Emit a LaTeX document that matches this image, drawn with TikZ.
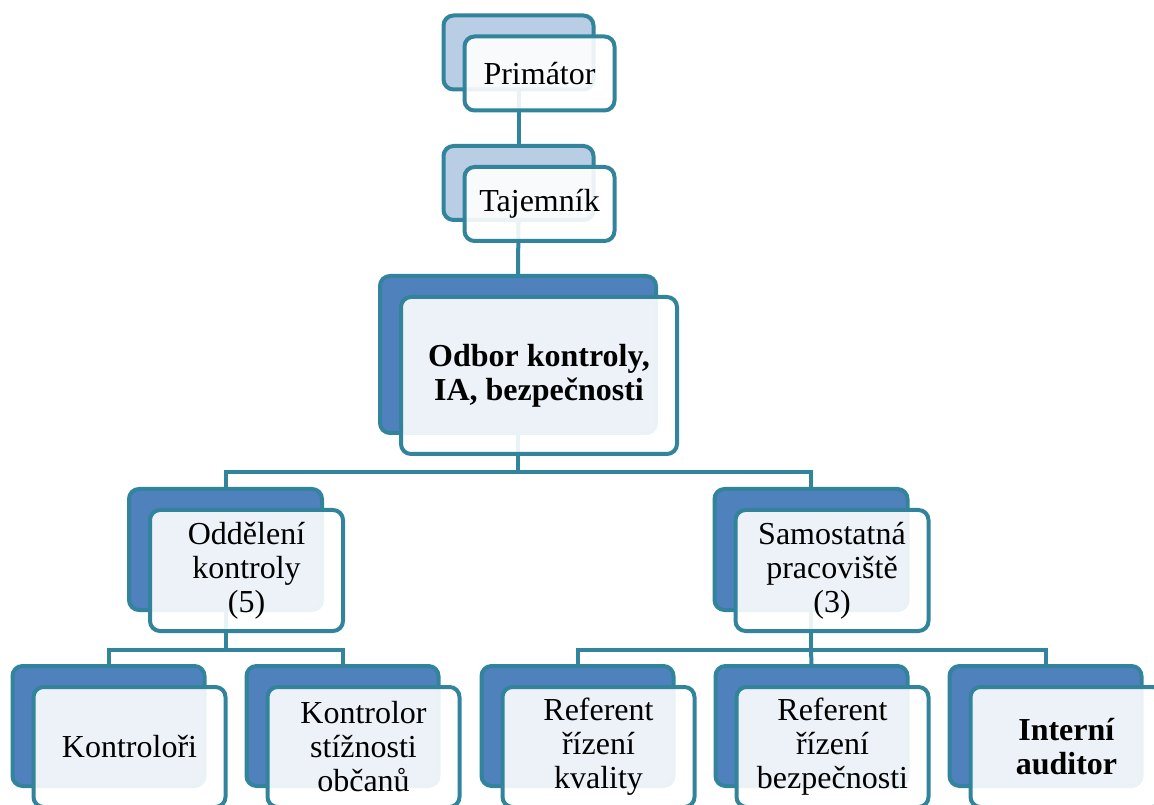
\documentclass[tikz,border=0pt]{standalone}
\usepackage{fontspec}
\setmainfont{Liberation Serif}
\usetikzlibrary{calc}
\definecolor{edge}{HTML}{31849B}
\definecolor{deep}{HTML}{4F81BD}
\definecolor{pale}{HTML}{B9CDE5}
\pgfdeclarelayer{links}
\pgfsetlayers{links,main}
\tikzset{
  backbox/.style={draw=edge, line width=3pt, rounded corners=7.5pt, fill=deep},
  frontbox/.style={draw=edge, line width=3pt, rounded corners=7.5pt, fill=white,
    fill opacity=0.9, text opacity=1, font=\fontsize{24}{25.5}\selectfont,
    align=center, inner sep=0pt},
  link/.style={draw=edge, line width=3pt},
}
% one org unit: a shadow card behind and a caption card offset down-right
% #1 name, #2/#3 centre of the back card, #4/#5 size in px, #6 back fill, #7 caption
\newcommand\orgunit[7]{%
  \node[backbox, fill=#6, minimum width=#4*0.75pt, minimum height=#5*0.75pt] (#1B) at (#2,#3) {};
  \node[frontbox, minimum width=#4*0.75pt, minimum height=#5*0.75pt] (#1F) at (#2+21,#3+21) {#7};
}
\begin{document}
\begin{tikzpicture}[x=0.75pt, y=-0.75pt]
\useasboundingbox (0,0) rectangle (1154,805);
\clip (0,0) rectangle (1154,805);

\orgunit{pri}{518.5}{52.5}{150}{74}{pale}{Primátor}
\orgunit{taj}{518.5}{183}{150}{74}{pale}{Tajemník}
\orgunit{odb}{518}{354.5}{276}{157}{deep}{\textbf{Odbor kontroly,}\\\textbf{IA, bezpečnosti}}
\orgunit{odd}{225.5}{549.5}{193}{121}{deep}{Oddělení\\kontroly\\(5)}
\orgunit{sam}{811}{549.5}{193}{121}{deep}{Samostatná\\pracoviště\\(3)}
\orgunit{kon}{108.5}{726}{192}{120}{deep}{Kontroloři}
\orgunit{kst}{342.5}{726}{192}{120}{deep}{Kontrolor\\stížnosti\\občanů}
\orgunit{rkv}{577.5}{726}{192}{120}{deep}{Referent\\řízení\\kvality}
\orgunit{rbz}{811.5}{726}{192}{120}{deep}{Referent\\řízení\\bezpečnosti}
\orgunit{aud}{1045.5}{726}{192}{120}{deep}{\textbf{Interní}\\\textbf{auditor}}

\begin{pgfonlayer}{links}
  \draw[link] (priB.south) -- (tajB.north);
  \draw[link] (tajB.south) -- (odbB.north);
  \coordinate (bus1) at ($(odbB.south)+(0,37)$);
  \draw[link] (odbB.south) -- (bus1);
  \draw[link] (oddB.north) |- (bus1) -| (samB.north);
  \coordinate (bus2) at ($(oddB.south)+(0,38)$);
  \draw[link] (oddB.south) -- (bus2);
  \draw[link] (konB.north) |- (bus2) -| (kstB.north);
  \coordinate (bus3) at ($(samB.south)+(0,38)$);
  \draw[link] (samB.south) -- (bus3);
  \draw[link] (rkvB.north) |- (bus3) -| (audB.north);
  \draw[link] (bus3) -- (rbzB.north);
\end{pgfonlayer}
\end{tikzpicture}
\end{document}
